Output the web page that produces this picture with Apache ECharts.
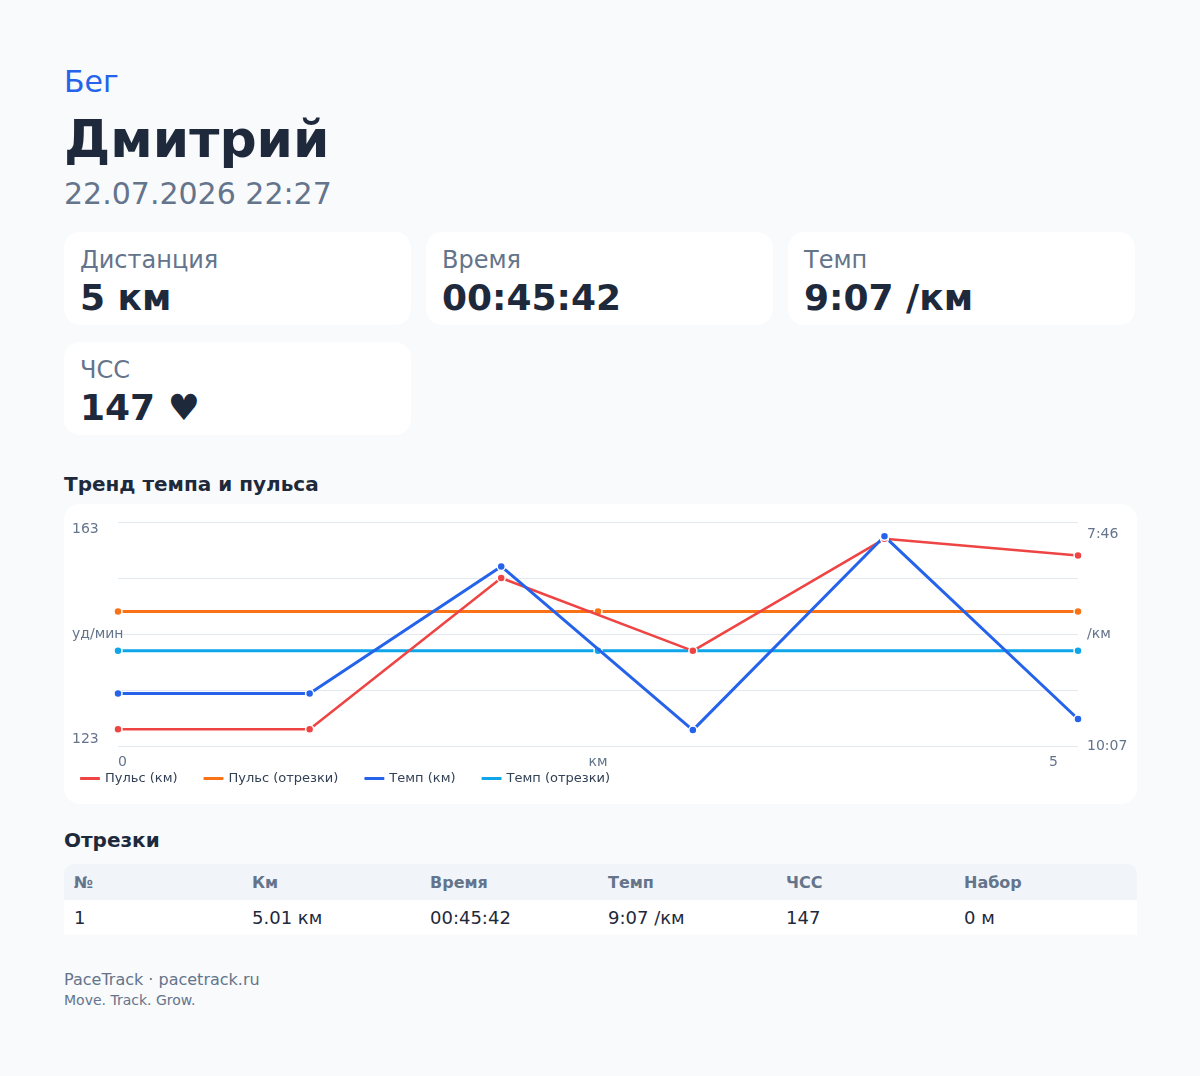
<!DOCTYPE html>
<html lang="ru">
<head>
<meta charset="utf-8">
<script src="https://cdn.jsdelivr.net/npm/echarts@6/dist/echarts.min.js"></script>
<style>
  html, body { margin: 0; padding: 0; }
  body { width: 1200px; height: 1076px; background: #f8fafc; font-family: "DejaVu Sans", sans-serif; position: relative; overflow: hidden; }
  .abs { position: absolute; left: 64px; white-space: nowrap; }
  #sport { top: 64px; font-size: 30px; line-height: 36px; color: #2563eb; }
  #name { top: 109px; font-size: 52px; line-height: 60px; font-weight: bold; color: #1e293b; }
  #date { top: 176px; font-size: 30px; line-height: 36px; color: #64748b; }
  #cards { top: 232px; width: 1071px; display: grid; grid-template-columns: repeat(3, 1fr); column-gap: 15px; row-gap: 17px; }
  .card { background: #fff; border-radius: 16px; padding: 14px 16px 0 16px; height: 93px; box-sizing: border-box; }
  .card .lbl { font-size: 24px; line-height: 28px; color: #64748b; }
  .card .val { font-size: 36px; line-height: 42px; margin-top: 3px; font-weight: bold; color: #1e293b; }
  .h2 { font-size: 20px; line-height: 24px; font-weight: bold; color: #1e293b; }
  #trendTitle { top: 472px; }
  #chart { position: absolute; left: 64px; top: 504px; width: 1073px; height: 300px; background: #fff; border-radius: 16px; }
  #segTitle { top: 828px; }
  #tbl { top: 864px; width: 1073px; border-collapse: collapse; table-layout: fixed; }
  #tbl th { background: #f1f5f9; height: 36px; padding: 0 10px; text-align: left; font-size: 16px; font-weight: bold; color: #64748b; }
  #tbl th:first-child { border-top-left-radius: 10px; }
  #tbl th:last-child { border-top-right-radius: 10px; }
  #tbl td { background: #fff; height: 35px; padding: 0 10px; font-size: 18px; color: #1e293b; }
  #foot1 { top: 970px; font-size: 16px; line-height: 20px; color: #64748b; }
  #foot2 { top: 991px; font-size: 14px; line-height: 18px; color: #64748b; }
</style>
</head>
<body>
<div class="abs" id="sport"></div>
<div class="abs" id="name"></div>
<div class="abs" id="date"></div>
<div class="abs" id="cards"></div>
<div class="abs h2" id="trendTitle"></div>
<div id="chart"></div>
<div class="abs h2" id="segTitle"></div>
<table class="abs" id="tbl">
  <colgroup><col style="width:178px"><col style="width:178px"><col style="width:178px"><col style="width:178px"><col style="width:178px"><col></colgroup>
  <thead><tr id="thead"></tr></thead><tbody><tr id="trow"></tr></tbody>
</table>
<div class="abs" id="foot1"></div>
<div class="abs" id="foot2"></div>
<script>
// ---- header texts ----
const sportLabel = "Бег";
const athleteName = "Дмитрий";
const dateLabel = "22.07.2026 22:27";

// ---- stat cards ----
const cardLabels = ["Дистанция", "Время", "Темп", "ЧСС"];
const cardValues = ["5 км", "00:45:42", "9:07 /км", "147 ♥"];

// ---- chart texts ----
const chartTitle = "Тренд темпа и пульса";
const seriesNames = ["Пульс (км)", "Пульс (отрезки)", "Темп (км)", "Темп (отрезки)"];

// ---- chart data ----
const kmX = [0, 1, 2, 3, 4, 5.01];               // distance, km
const pulseKm = [126, 126, 153, 140, 160, 157];   // bpm per km
const paceKmSec = [574, 574, 494, 597, 475, 590]; // pace per km, seconds / km
const segX = [0, 2.505, 5.01];
const pulseSeg = [147, 147, 147];
const paceSegSec = [547, 547, 547];
const pulseRange = [123, 163];
const paceRange = [466, 607]; // 7:46 .. 10:07
const xRange = [0, 5.01];

// ---- table ----
const tableTitle = "Отрезки";
const tableHeaders = ["№", "Км", "Время", "Темп", "ЧСС", "Набор"];
const tableRow = ["1", "5.01 км", "00:45:42", "9:07 /км", "147", "0 м"];

// ---- footer ----
const footerLine1 = "PaceTrack · pacetrack.ru";
const footerLine2 = "Move. Track. Grow.";

document.getElementById('sport').textContent = sportLabel;
document.getElementById('name').textContent = athleteName;
document.getElementById('date').textContent = dateLabel;
const cardsEl = document.getElementById('cards');
cardLabels.forEach((l, i) => {
  const c = document.createElement('div');
  c.className = 'card';
  c.innerHTML = '<div class="lbl"></div><div class="val"></div>';
  c.querySelector('.lbl').textContent = l;
  c.querySelector('.val').textContent = cardValues[i];
  cardsEl.appendChild(c);
});
document.getElementById('trendTitle').textContent = chartTitle;
document.getElementById('segTitle').textContent = tableTitle;
const th = document.getElementById('thead');
tableHeaders.forEach(h => { const e = document.createElement('th'); e.textContent = h; th.appendChild(e); });
const tr = document.getElementById('trow');
tableRow.forEach(v => { const e = document.createElement('td'); e.textContent = v; tr.appendChild(e); });
document.getElementById('foot1').textContent = footerLine1;
document.getElementById('foot2').textContent = footerLine2;

function fmtPace(s) {
  s = Math.round(s);
  const m = Math.floor(s / 60), ss = s % 60;
  return m + ':' + (ss < 10 ? '0' : '') + ss;
}
const zip = (xs, ys) => xs.map((x, i) => [x, ys[i]]);

const RED = '#ef4444', ORANGE = '#f97316', BLUE = '#2563eb', SKY = '#0ea5e9';
const LABEL = '#64748b', GRID = '#e2e8f0';

const chart = echarts.init(document.getElementById('chart'), null, { renderer: 'canvas' });
const symbolStyle = c => ({ color: c, borderColor: '#fff', borderWidth: 1.5 });
chart.setOption({
  animation: false,
  backgroundColor: 'transparent',
  textStyle: { fontFamily: 'DejaVu Sans' },
  grid: { left: 54, right: 59, top: 18, bottom: 58, containLabel: false, outerBoundsMode: 'none' },
  legend: {
    left: 16, top: 268, padding: 0,
    icon: 'roundRect', itemWidth: 20, itemHeight: 3, itemGap: 26,
    itemStyle: { borderWidth: 0 },
    textStyle: { fontSize: 13, color: '#334155' },
    data: seriesNames
  },
  xAxis: {
    type: 'value', min: xRange[0], max: xRange[1], interval: xRange[1],
    name: 'км', nameLocation: 'middle', nameGap: 9, nameMoveOverlap: false,
    nameTextStyle: { color: LABEL, fontSize: 14, verticalAlign: 'top' },
    axisLine: { show: false }, axisTick: { show: false }, splitLine: { show: false },
    axisLabel: {
      color: LABEL, fontSize: 14, margin: 9,
      alignMinLabel: 'left', alignMaxLabel: 'right', padding: [0, 20, 0, 0],
      formatter: v => String(Math.round(v))
    }
  },
  yAxis: [
    {
      type: 'value', min: pulseRange[0], max: pulseRange[1], interval: 10,
      name: 'уд/мин', nameLocation: 'middle', nameGap: 46, nameRotate: 0, nameMoveOverlap: false,
      nameTextStyle: { color: LABEL, fontSize: 14, align: 'left', verticalAlign: 'middle', padding: [6, 0, 0, 0] },
      axisLine: { show: false }, axisTick: { show: false },
      splitLine: { lineStyle: { color: GRID, width: 1 } },
      axisLabel: {
        color: LABEL, fontSize: 14, margin: 46, align: 'left',
        verticalAlignMaxLabel: 'top', verticalAlignMinLabel: 'bottom',
        formatter: v => (v === pulseRange[0] || v === pulseRange[1]) ? String(v) : ''
      }
    },
    {
      type: 'value', min: paceRange[0], max: paceRange[1], interval: (paceRange[1] - paceRange[0]) / 4,
      inverse: true, position: 'right',
      name: '/км', nameLocation: 'middle', nameGap: 9, nameRotate: 0, nameMoveOverlap: false,
      nameTextStyle: { color: LABEL, fontSize: 14, align: 'left', verticalAlign: 'middle', padding: [6, 0, 0, 0] },
      axisLine: { show: false }, axisTick: { show: false }, splitLine: { show: false },
      axisLabel: {
        color: LABEL, fontSize: 14, margin: 9, align: 'left',
        verticalAlignMinLabel: 'top', verticalAlignMaxLabel: 'middle',
        padding: [5, 0, 0, 0],
        formatter: v => (v === paceRange[0] || v === paceRange[1]) ? fmtPace(v) : ''
      }
    }
  ],
  series: [
    {
      name: seriesNames[1], type: 'line', yAxisIndex: 0, data: zip(segX, pulseSeg),
      symbol: 'circle', symbolSize: 8, lineStyle: { color: ORANGE, width: 3 },
      itemStyle: symbolStyle(ORANGE), z: 2
    },
    {
      name: seriesNames[3], type: 'line', yAxisIndex: 1, data: zip(segX, paceSegSec),
      symbol: 'circle', symbolSize: 8, lineStyle: { color: SKY, width: 3 },
      itemStyle: symbolStyle(SKY), z: 2
    },
    {
      name: seriesNames[0], type: 'line', yAxisIndex: 0, data: zip(kmX, pulseKm),
      symbol: 'circle', symbolSize: 8, lineStyle: { color: RED, width: 2.5 },
      itemStyle: symbolStyle(RED), z: 3
    },
    {
      name: seriesNames[2], type: 'line', yAxisIndex: 1, data: zip(kmX, paceKmSec),
      symbol: 'circle', symbolSize: 8, lineStyle: { color: BLUE, width: 3 },
      itemStyle: symbolStyle(BLUE), z: 3
    }
  ]
});
</script>
</body>
</html>
